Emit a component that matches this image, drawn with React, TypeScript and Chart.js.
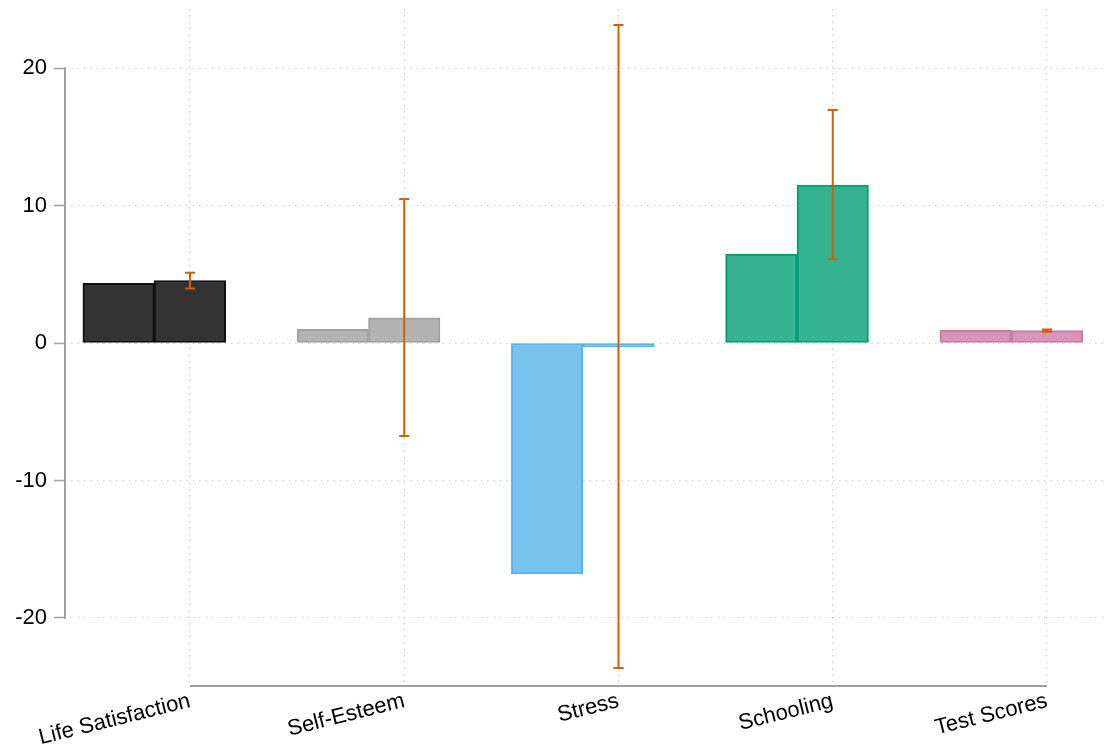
import React, { useEffect, useRef } from 'react';
import { Chart, registerables } from 'chart.js';

Chart.register(...registerables);

// ---- data ----
const CATEGORIES = ['Life Satisfaction', 'Self-Esteem', 'Stress', 'Schooling', 'Test Scores'];
const FIRST_VALUES = [4.35, 1.0, -16.8, 6.47, 0.92];
const SECOND_VALUES = [4.55, 1.84, -0.29, 11.49, 0.9];
const CI_LOW = [3.97, -6.76, -23.64, 6.11, 0.82];
const CI_HIGH = [5.11, 10.47, 23.13, 16.95, 0.98];
const Y_TICKS = [-20, -10, 0, 10, 20];

// ---- styles ----
const FILLS = ['#333333', '#b3b3b3', '#78c3ed', '#35b28f', '#d694b9'];
const BORDERS = ['#111111', '#a0a0a0', '#56b4e9', '#009e73', '#cc79a7'];
const CI_COLOR = '#d55e00';
const AXIS_COLOR = '#a0a0a0';
const GRID_COLOR = '#bcbcbc';
const FONT = '"Liberation Sans", Arial, Helvetica, sans-serif';
const BAR_SHIFT = 1 / 3; // left bar sits one bar-width left of the category centre

const overlay = {
  id: 'overlay',
  afterDatasetsDraw(chart: any) {
    const { ctx, scales } = chart;
    const x = scales.x;
    const y = scales.y;
    ctx.save();
    ctx.strokeStyle = CI_COLOR;
    ctx.lineWidth = 2;
    const cap = 5;
    CATEGORIES.forEach((_, i) => {
      const px = x.getPixelForValue(i);
      const lo = y.getPixelForValue(CI_LOW[i]);
      const hi = y.getPixelForValue(CI_HIGH[i]);
      ctx.beginPath();
      ctx.moveTo(px, lo);
      ctx.lineTo(px, hi);
      ctx.moveTo(px - cap, lo);
      ctx.lineTo(px + cap, lo);
      ctx.moveTo(px - cap, hi);
      ctx.lineTo(px + cap, hi);
      ctx.stroke();
    });
    ctx.restore();
  },
  afterDraw(chart: any) {
    const { ctx, scales, chartArea } = chart;
    const x = scales.x;
    const y = scales.y;
    ctx.save();
    ctx.strokeStyle = AXIS_COLOR;
    ctx.lineWidth = 2;
    ctx.beginPath();
    ctx.moveTo(chartArea.left, y.getPixelForValue(Y_TICKS[Y_TICKS.length - 1]) - 0.75);
    ctx.lineTo(chartArea.left, y.getPixelForValue(Y_TICKS[0]) + 0.75);
    ctx.moveTo(x.getPixelForValue(0), chartArea.bottom);
    ctx.lineTo(x.getPixelForValue(CATEGORIES.length - 1), chartArea.bottom);
    ctx.stroke();
    ctx.restore();
  },
};

export default function App() {
  const ref = useRef<HTMLCanvasElement | null>(null);

  useEffect(() => {
    if (!ref.current) return;
    const barStyle = {
      backgroundColor: FILLS,
      borderColor: BORDERS,
      borderWidth: 2,
      borderSkipped: false,
      grouped: false,
      barPercentage: 1,
      categoryPercentage: 1,
    };
    const chart = new Chart(ref.current, {
      type: 'bar',
      data: {
        datasets: [
          { data: FIRST_VALUES.map((v, i) => ({ x: i - BAR_SHIFT, y: v })), ...barStyle },
          { data: SECOND_VALUES.map((v, i) => ({ x: i, y: v })), ...barStyle },
        ] as any,
      },
      options: {
        animation: false,
        responsive: true,
        maintainAspectRatio: false,
        layout: { padding: { top: 9, right: 10, left: 0, bottom: 0 } },
        plugins: { legend: { display: false }, tooltip: { enabled: false } },
        scales: {
          x: {
            type: 'linear',
            min: -0.5834,
            max: 4.2614,
            offset: false,
            afterBuildTicks: (scale: any) => {
              scale.ticks = CATEGORIES.map((_, i) => ({ value: i }));
            },
            afterFit: (scale: any) => {
              scale.height = 58;
              scale.paddingLeft = 0;
              scale.paddingRight = 0;
            },
            ticks: {
              autoSkip: false,
              minRotation: 14,
              maxRotation: 14,
              padding: 2,
              color: '#000',
              font: { family: FONT, size: 22 },
              callback: (v: any) => CATEGORIES[v] ?? '',
            },
            grid: {
              offset: false,
              color: GRID_COLOR,
              lineWidth: 1,
              drawTicks: false,
            },
            border: { display: false, dash: [1, 5.4] },
          },
          y: {
            type: 'linear',
            min: -24.95,
            max: 24.3,
            afterBuildTicks: (scale: any) => {
              scale.ticks = Y_TICKS.map((v) => ({ value: v }));
            },
            afterFit: (scale: any) => {
              scale.width = 65;
              scale.paddingTop = 0;
              scale.paddingBottom = 0;
            },
            ticks: {
              padding: 7,
              color: '#000',
              font: { family: FONT, size: 22 },
              callback: (v: any) => String(v),
            },
            grid: {
              color: GRID_COLOR,
              lineWidth: 1,
              drawTicks: true,
              tickLength: 11,
              tickColor: AXIS_COLOR,
              tickWidth: 1.5,
            },
            border: { display: false, dash: [1, 5.4] },
          },
        },
      } as any,
      plugins: [overlay],
    });
    return () => chart.destroy();
  }, []);

  return (
    <div style={{ position: 'fixed', left: 0, top: 0, width: 1113, height: 744, background: '#fff' }}>
      <canvas ref={ref} />
    </div>
  );
}
